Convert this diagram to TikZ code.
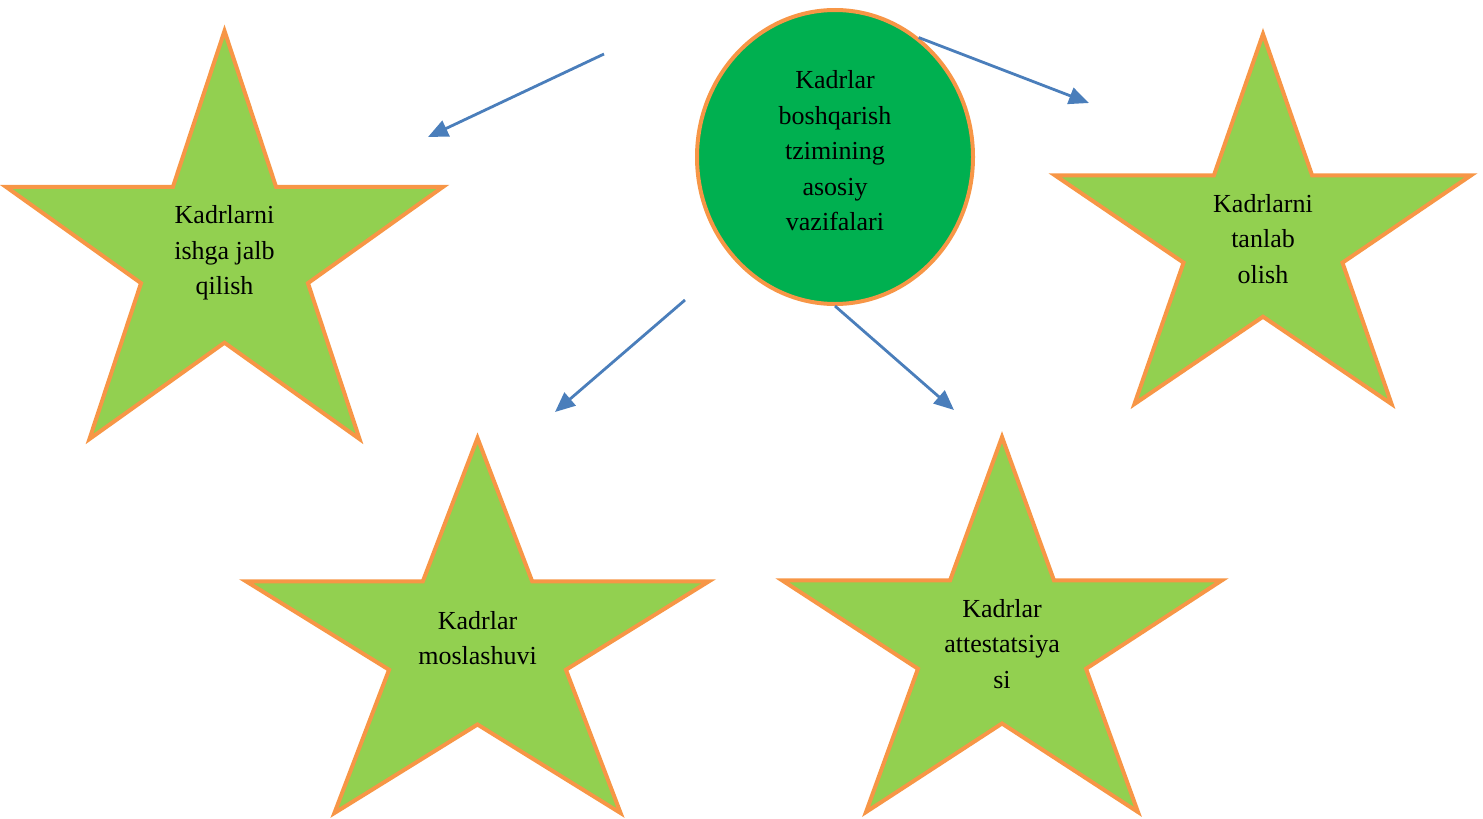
\documentclass[tikz,border=0pt]{standalone}
\usepackage{fontspec}
\setmainfont{Liberation Serif}
\usepackage{xcolor}
\usetikzlibrary{arrows.meta, shapes.geometric}

\definecolor{starfill}{HTML}{92D050}
\definecolor{rimorange}{HTML}{F79646}
\definecolor{hubgreen}{HTML}{00B050}
\definecolor{arrowblue}{HTML}{4A7EBB}

% star: #1 name, #2 left, #3 top, #4 width, #5 height, #6 text middle, #7 text
\newcommand{\kstar}[7]{%
  \draw[starshape] ({#2+0.5*#4},#3) -- ({#2+0.618*#4},{#3+0.382*#5}) -- ({#2+#4},{#3+0.382*#5})
    -- ({#2+0.691*#4},{#3+0.618*#5}) -- ({#2+0.809*#4},{#3+#5}) -- ({#2+0.5*#4},{#3+0.764*#5})
    -- ({#2+0.191*#4},{#3+#5}) -- ({#2+0.309*#4},{#3+0.618*#5}) -- (#2,{#3+0.382*#5})
    -- ({#2+0.382*#4},{#3+0.382*#5}) -- cycle;
  \node[starlabel] (#1) at ({#2+0.5*#4},#6) {#7};}

\begin{document}
\begin{tikzpicture}[
    x=0.5pt, y=-0.5pt,
    starshape/.style={draw=rimorange, fill=starfill, line width=2pt},
    starlabel/.style={align=center, inner sep=0pt, font=\fontsize{13}{17.75}\selectfont},
    hub/.style={draw=rimorange, fill=hubgreen, line width=2pt, ellipse, minimum width=138pt, minimum height=147pt, inner sep=0pt},
    line/.style={draw=arrowblue, line width=1.4pt, -{Triangle[length=10pt, width=8.5pt]}}
]
    \useasboundingbox (0,0) rectangle (1483,819);

    % Nodes
    \node[hub] (hub) at (835,157) {};
    \node[starlabel] (hubtext) at (835,151) {Kadrlar\\boshqarish\\tzimining\\asosiy\\vazifalari};
    \kstar{jalb}{6}{31}{437}{408}{253}{Kadrlarni\\ishga jalb\\qilish}
    \kstar{tanlab}{1055}{34}{416}{370}{239}{Kadrlarni\\tanlab\\olish}
    \kstar{moslash}{246}{438}{463}{375}{638}{Kadrlar\\moslashuvi}
    \kstar{attest}{782}{437}{440}{375}{644}{Kadrlar\\attestatsiya\\si}

    % Free ends of the arrows
    \coordinate (tojalb0) at (604,54);
    \coordinate (tojalb) at (428,137);
    \coordinate (totanlab) at (1089,103);
    \coordinate (tomoslash0) at (685,300);
    \coordinate (tomoslash) at (555,412);
    \coordinate (toattest) at (954,410);

    % Lines
    \draw[line] (tojalb0) -- (tojalb);
    \draw[line] (hub.55) -- (totanlab);
    \draw[line] (tomoslash0) -- (tomoslash);
    \draw[line] (hub.south) -- (toattest);

\end{tikzpicture}
\end{document}
